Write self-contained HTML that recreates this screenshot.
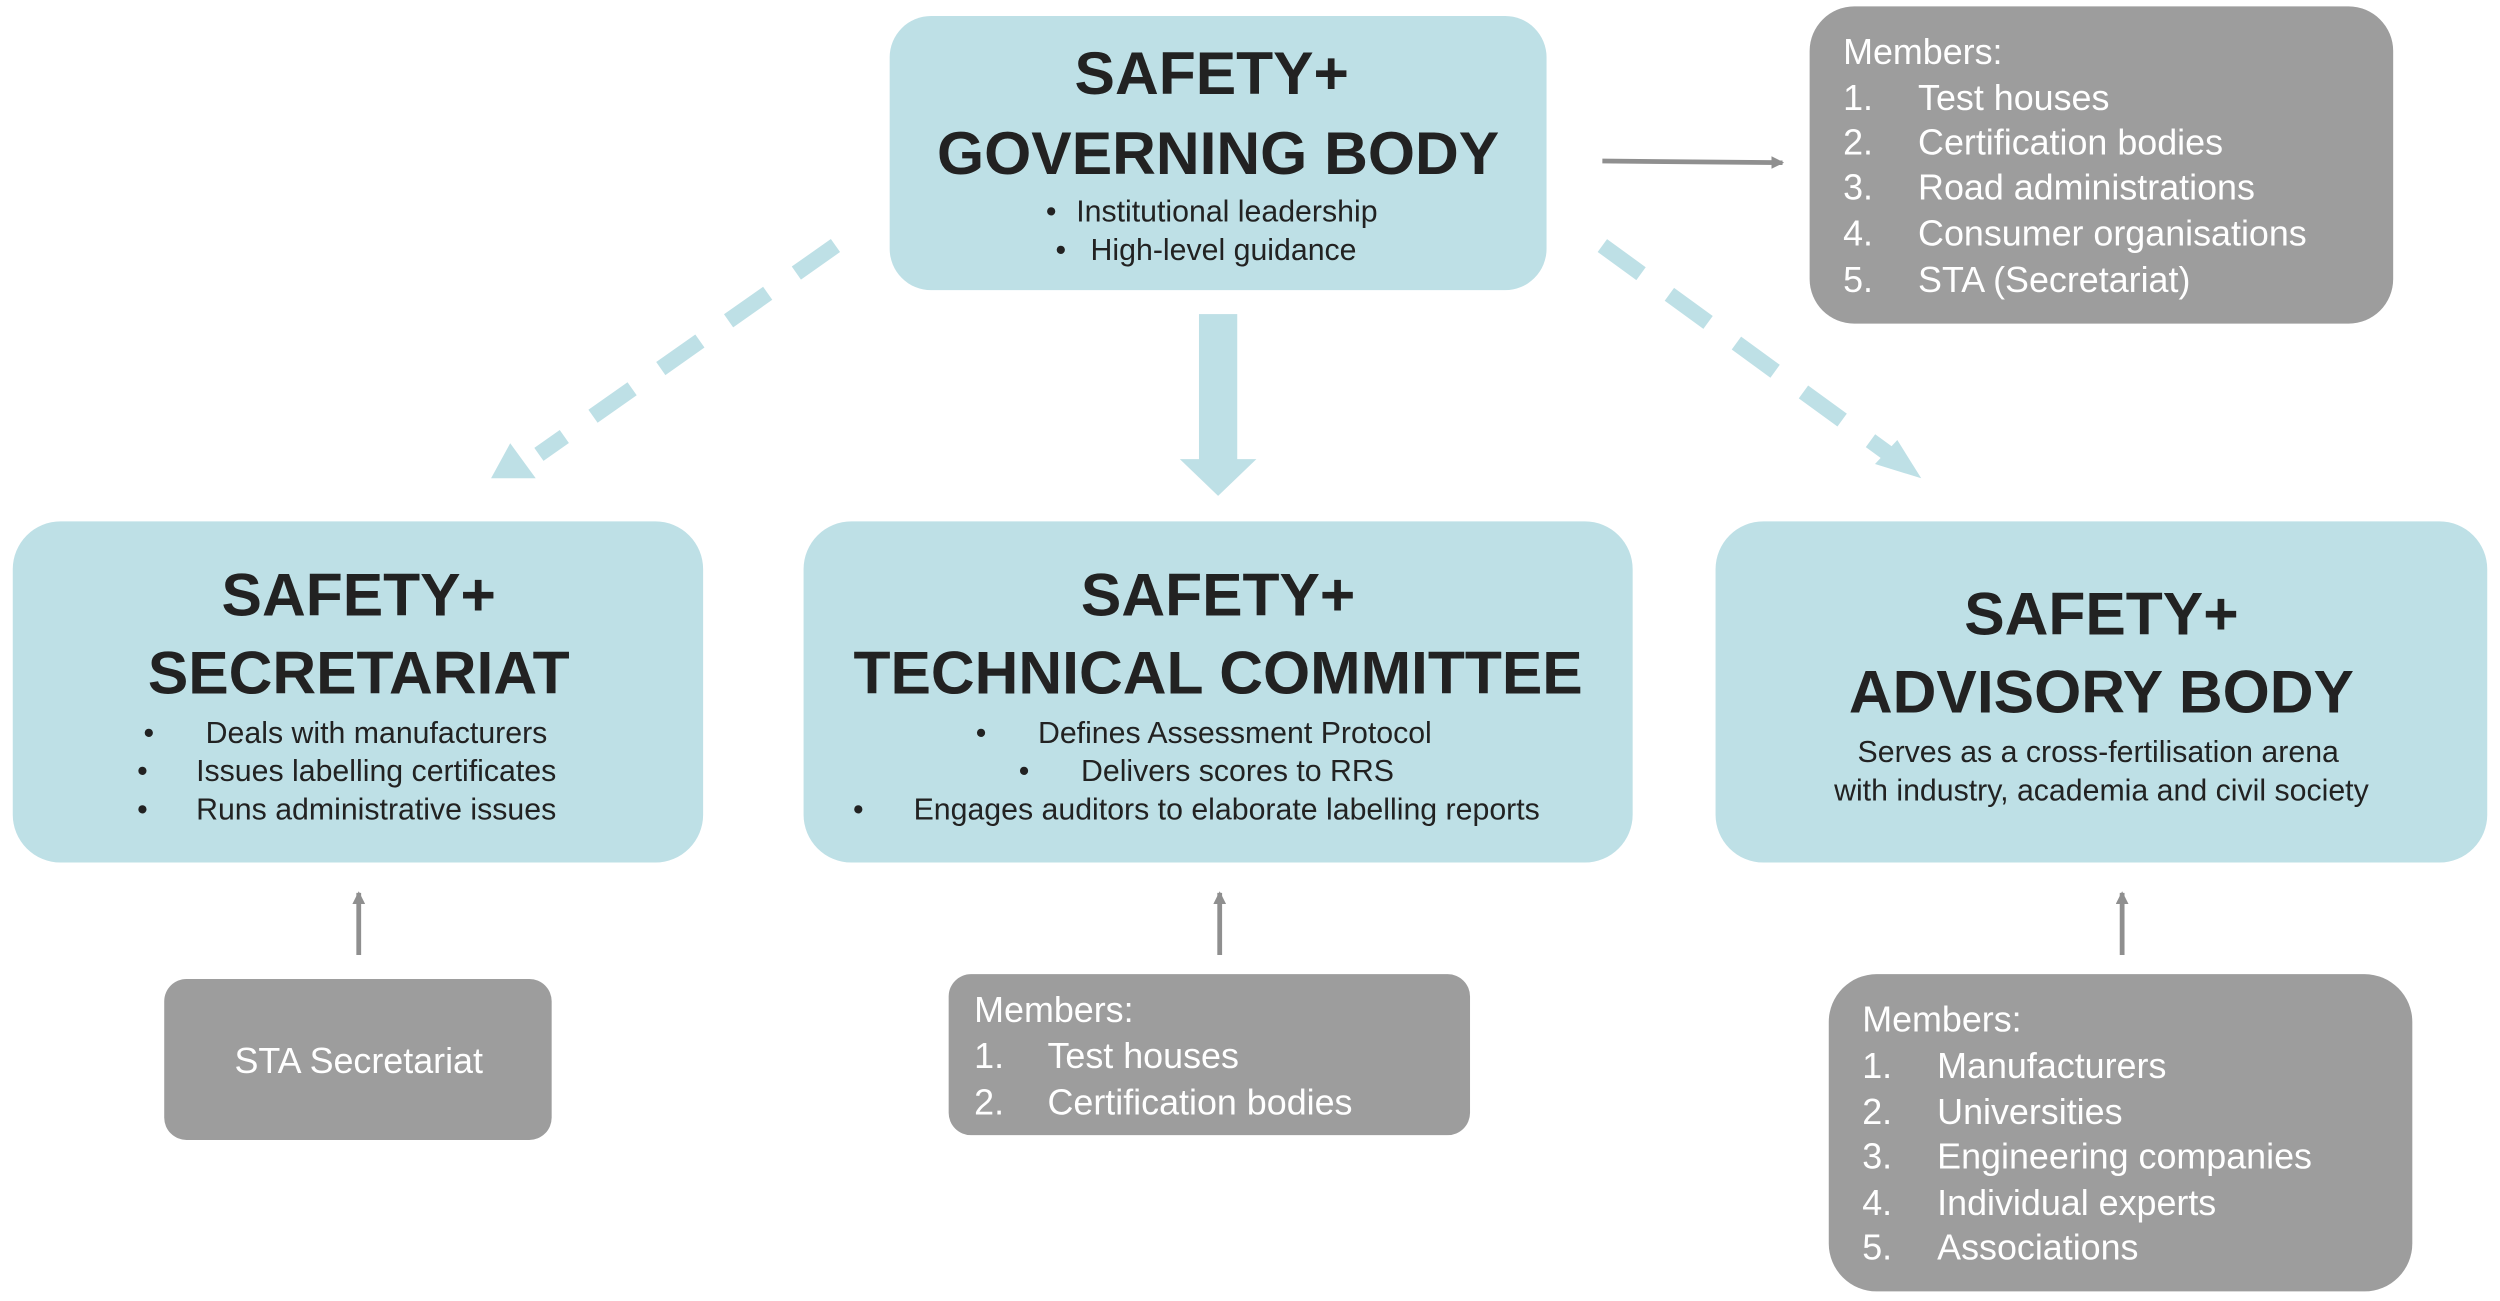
<!DOCTYPE html>
<html><head><meta charset="utf-8"><style>
html,body{margin:0;padding:0;background:#fff;width:2500px;height:1301px;overflow:hidden}
svg{display:block}
text{font-family:"Liberation Sans",Arial,sans-serif}
.t{font-weight:bold;fill:#222;font-size:38px}
.b{fill:#222;font-size:19px}
.w{fill:#fff;font-size:22.5px}
</style></head><body>
<svg width="2500" height="1301" viewBox="0 0 1568 816" preserveAspectRatio="none">
<defs>
<marker id="ga" markerWidth="8" markerHeight="8" refX="7" refY="4" orient="auto" markerUnits="userSpaceOnUse"><path d="M0,0 L8,4 L0,8 z" fill="#8f8f8f"/></marker>
</defs>
<rect x="0" y="0" width="1568" height="816" fill="#fff"/>
<!-- Governing body -->
<rect x="558" y="10" width="412" height="172" rx="26" fill="#bee0e6"/>
<text class="t" x="760" y="59" text-anchor="middle">SAFETY+</text>
<text class="t" x="764" y="109" text-anchor="middle">GOVERNING BODY</text>
<text class="b" x="656" y="139">•</text><text class="b" x="675" y="139">Institutional leadership</text>
<text class="b" x="662" y="163">•</text><text class="b" x="684" y="163">High-level guidance</text>
<!-- top right members -->
<rect x="1135" y="4" width="366" height="199" rx="28" fill="#9d9d9d"/>
<text class="w" x="1156" y="40">Members:</text>
<text class="w" x="1156" y="69">1.</text><text class="w" x="1203" y="69">Test houses</text>
<text class="w" x="1156" y="97">2.</text><text class="w" x="1203" y="97">Certification bodies</text>
<text class="w" x="1156" y="125">3.</text><text class="w" x="1203" y="125">Road administrations</text>
<text class="w" x="1156" y="154">4.</text><text class="w" x="1203" y="154">Consumer organisations</text>
<text class="w" x="1156" y="183">5.</text><text class="w" x="1203" y="183">STA (Secretariat)</text>
<line x1="1005" y1="101" x2="1118" y2="102" stroke="#8f8f8f" stroke-width="3" marker-end="url(#ga)"/>
<!-- dashed arrows -->
<line x1="524" y1="154" x2="338" y2="285" stroke="#bee0e6" stroke-width="10" stroke-dasharray="30,22"/>
<polygon points="320,278 308,300 336,300" fill="#bee0e6"/>
<line x1="1005" y1="154" x2="1185" y2="285" stroke="#bee0e6" stroke-width="10" stroke-dasharray="30,22"/>
<polygon points="1190,276 1176,291 1205,300" fill="#bee0e6"/>
<!-- center arrow -->
<rect x="752" y="197" width="24" height="92" fill="#bee0e6"/>
<polygon points="740,288 788,288 764,311" fill="#bee0e6"/>
<!-- Secretariat -->
<rect x="8" y="327" width="433" height="214" rx="30" fill="#bee0e6"/>
<text class="t" x="225" y="386" text-anchor="middle">SAFETY+</text>
<text class="t" x="225" y="435" text-anchor="middle">SECRETARIAT</text>
<text class="b" x="90" y="466">•</text><text class="b" x="129" y="466">Deals with manufacturers</text>
<text class="b" x="86" y="490">•</text><text class="b" x="123" y="490">Issues labelling certificates</text>
<text class="b" x="86" y="514">•</text><text class="b" x="123" y="514">Runs administrative issues</text>
<!-- Technical -->
<rect x="504" y="327" width="520" height="214" rx="30" fill="#bee0e6"/>
<text class="t" x="764" y="386" text-anchor="middle">SAFETY+</text>
<text class="t" x="764" y="435" text-anchor="middle">TECHNICAL COMMITTEE</text>
<text class="b" x="612" y="466">•</text><text class="b" x="651" y="466">Defines Assessment Protocol</text>
<text class="b" x="639" y="490">•</text><text class="b" x="678" y="490">Delivers scores to RRS</text>
<text class="b" x="535" y="514">•</text><text class="b" x="573" y="514">Engages auditors to elaborate labelling reports</text>
<!-- Advisory -->
<rect x="1076" y="327" width="484" height="214" rx="30" fill="#bee0e6"/>
<text class="t" x="1318" y="398" text-anchor="middle">SAFETY+</text>
<text class="t" x="1318" y="447" text-anchor="middle">ADVISORY BODY</text>
<text class="b" x="1316" y="478" text-anchor="middle">Serves as a cross-fertilisation arena</text>
<text class="b" x="1318" y="502" text-anchor="middle">with industry, academia and civil society</text>
<!-- small arrows -->
<line x1="225" y1="599" x2="225" y2="560" stroke="#8f8f8f" stroke-width="3" marker-end="url(#ga)"/>
<line x1="765" y1="599" x2="765" y2="560" stroke="#8f8f8f" stroke-width="3" marker-end="url(#ga)"/>
<line x1="1331" y1="599" x2="1331" y2="560" stroke="#8f8f8f" stroke-width="3" marker-end="url(#ga)"/>
<!-- bottom gray boxes -->
<rect x="103" y="614" width="243" height="101" rx="14" fill="#9d9d9d"/>
<text class="w" x="225" y="673" text-anchor="middle">STA Secretariat</text>
<rect x="595" y="611" width="327" height="101" rx="14" fill="#9d9d9d"/>
<text class="w" x="611" y="641">Members:</text>
<text class="w" x="611" y="670">1.</text><text class="w" x="657" y="670">Test houses</text>
<text class="w" x="611" y="699">2.</text><text class="w" x="657" y="699">Certification bodies</text>
<rect x="1147" y="611" width="366" height="199" rx="30" fill="#9d9d9d"/>
<text class="w" x="1168" y="647">Members:</text>
<text class="w" x="1168" y="676">1.</text><text class="w" x="1215" y="676">Manufacturers</text>
<text class="w" x="1168" y="705">2.</text><text class="w" x="1215" y="705">Universities</text>
<text class="w" x="1168" y="733">3.</text><text class="w" x="1215" y="733">Engineering companies</text>
<text class="w" x="1168" y="762">4.</text><text class="w" x="1215" y="762">Individual experts</text>
<text class="w" x="1168" y="790">5.</text><text class="w" x="1215" y="790">Associations</text>
</svg>
</body></html>
